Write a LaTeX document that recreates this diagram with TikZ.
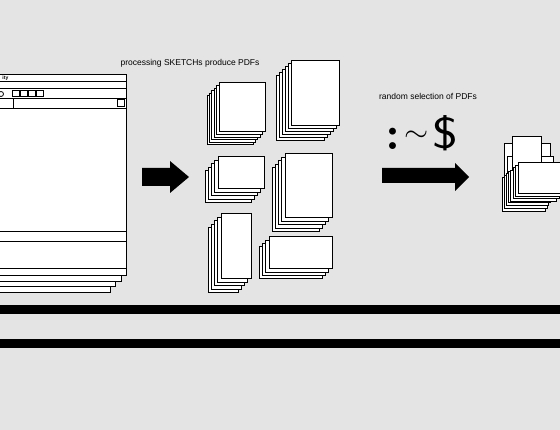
\documentclass[tikz,border=0pt]{standalone}
\usepackage{fontspec}
\setmainfont{Liberation Sans}
\newfontfamily\lmfont{Latin Modern Roman}
\usetikzlibrary{positioning}
\definecolor{desk}{HTML}{E4E4E4}
\tikzset{
	page/.style={draw, fill=white, line width=1pt},
	rule/.style={line width=1pt},
	icon/.style={draw, fill=white, line width=1pt, minimum width=7pt, minimum height=6pt, inner sep=0pt,
		path picture={\fill (path picture bounding box.center) rectangle ++(1.5pt,-1.5pt)
			(path picture bounding box.center) rectangle ++(-1.5pt,1.5pt);}},
	caption/.style={font=\fontsize{8.5}{9}\selectfont, inner sep=0pt},
	blockarrow/.style={fill=black}
}
% stack of PDF pages: front corner x, y, width, height, pages behind, step x, step y
\newcommand{\pdfstack}[7]{
	\foreach \k in {#5,...,0}
		\draw[page] ({#1-\k*#6},{#2+\k*#7}) rectangle ++(#3,#4);
}

\begin{document}
\begin{tikzpicture}[x=1pt,y=-1pt]
	\fill[desk] (0,0) rectangle (560,430);
	\useasboundingbox (0,0) rectangle (560,430);
	% sketch window
	\draw[page] (-10,200) rectangle (110,293);
	\draw[page] (-10,200) rectangle (115,287);
	\draw[page] (-10,200) rectangle (121,282);
	\draw[page] (-10,75) rectangle (126,276);
	\foreach \y in {82,89,98.5,109,232,242,269}
		\draw[rule] (-10,\y) -- (126,\y);
	\draw[rule] (13,98.5) -- (13,109);
	\node[font=\fontsize{5}{5}\selectfont\bfseries, anchor=east, inner sep=0pt] (wintitle) at (8.5,78.5) {ity};
	\node[draw, circle, line width=0.8pt, minimum size=5pt, inner sep=0pt] (iconrun) at (1,94) {};
	\foreach \i in {0,...,3}
		\node[icon] (icon\i) at ({15.5+\i*8.3},94) {};
	\node[icon, minimum height=7pt] (iconopen) at (120.5,103.5) {};
	% first step
	\node[caption] (process) at (190,63) {processing SKETCHs produce PDFs};
	\fill[blockarrow] (142,168) -- (170,168) -- (170,161) -- (189,177)
		-- (170,193) -- (170,186) -- (142,186) -- cycle;
	\pdfstack{219}{83}{46}{49}{5}{2.4}{2.6}
	\pdfstack{291}{61}{48}{65}{5}{3}{3}
	\pdfstack{218}{157}{46}{32}{4}{3.25}{3.5}
	\pdfstack{285}{154}{47}{64}{4}{3.25}{3.5}
	\pdfstack{221}{214}{30}{65}{4}{3.25}{3.5}
	\pdfstack{269}{237}{63}{32}{3}{3.3}{3.3}
	% second step
	\node[caption] (select) at (428,96) {random selection of PDFs};
	\node[font=\lmfont\bfseries\fontsize{48}{48}\selectfont, inner sep=0pt] (colon) at (393,139) {:};
	\node[font=\fontsize{24.88}{25}\selectfont, inner sep=0pt, xscale=1.25, yscale=1.15, transform shape] (tilde) at (416.5,136) {$\sim$};
	\node[font=\sffamily\fontsize{44}{44}\selectfont, inner sep=0pt, xscale=1.25, transform shape] (dollar) at (445.5,133) {\$};
	\fill[blockarrow] (382,168) -- (455,168) -- (455,163) -- (469,177)
		-- (455,191) -- (455,183) -- (382,183) -- cycle;
	\draw[page] (504,144) rectangle (550,200);
	\draw[page] (507,157) rectangle (553,200);
	\draw[page] (512,137) rectangle (541,200);
	\draw[page] (502,178) rectangle (545,212);
	\draw[page] (504,176) rectangle (547,209);
	\draw[page] (506,174) rectangle (548,206);
	\draw[page] (508,172) rectangle (550,203);
	\pdfstack{518}{163}{46}{31}{3}{2.5}{2.5}
	% bottom bars
	\fill (0,305) rectangle (560,314);
	\fill (0,339) rectangle (560,348);
\end{tikzpicture}
\end{document}
